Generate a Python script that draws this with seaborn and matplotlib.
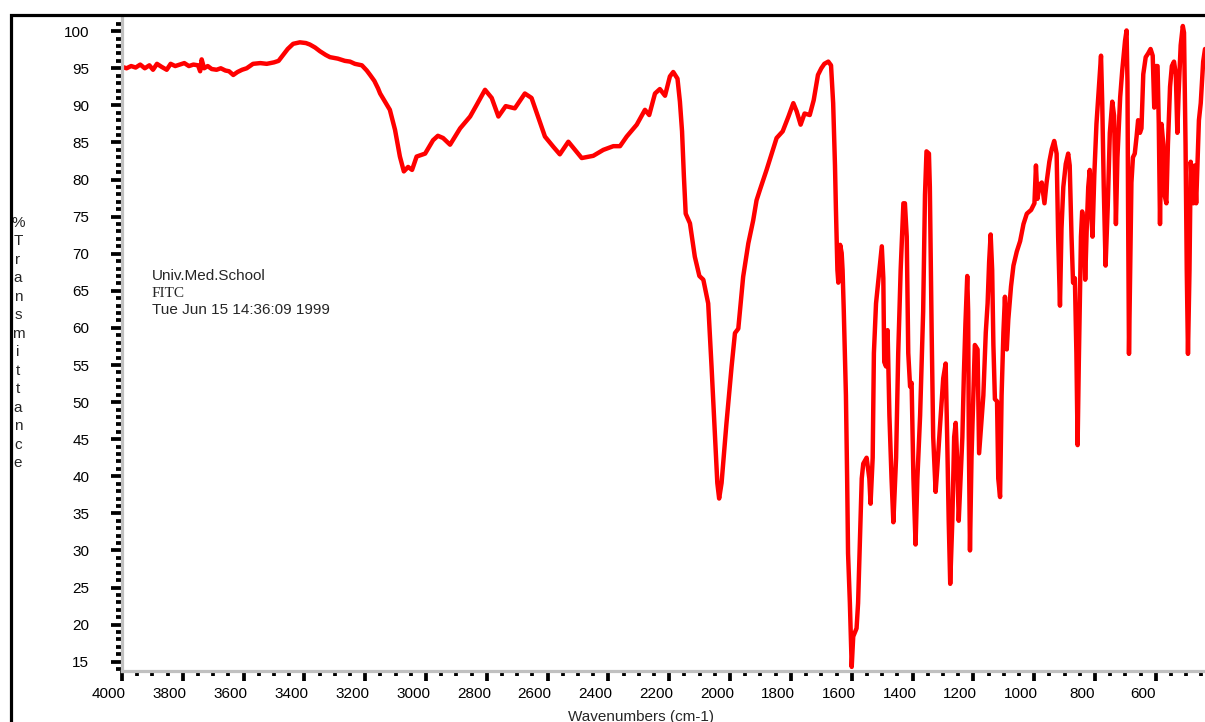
import matplotlib
matplotlib.use("Agg")
import matplotlib.pyplot as plt
from matplotlib.patches import Rectangle
from matplotlib.ticker import MultipleLocator, FormatStrFormatter
from matplotlib.transforms import ScaledTranslation
import seaborn as sns
import pandas as pd

# FT-IR spectrum of FITC: wavenumber (cm-1) and percent transmittance
wavenumber = [
    4000, 3985, 3970, 3955, 3940, 3925, 3910, 3898, 3885, 3870, 3853, 3840,
    3825, 3810, 3795, 3780, 3765, 3750, 3743, 3738, 3730, 3718, 3705, 3689,
    3675, 3660, 3648, 3634, 3620, 3605, 3590, 3569, 3545, 3524, 3500, 3485,
    3470, 3455, 3437, 3415, 3395, 3382, 3365, 3349, 3330, 3316, 3290, 3267,
    3250, 3234, 3211, 3195, 3184, 3170, 3158, 3151, 3119, 3102, 3086, 3073,
    3059, 3046, 3031, 3003, 2977, 2961, 2944, 2921, 2888, 2855, 2833, 2806,
    2784, 2762, 2738, 2708, 2675, 2653, 2632, 2609, 2581, 2560, 2532, 2510,
    2488, 2450, 2417, 2384, 2362, 2340, 2307, 2280, 2266, 2247, 2231, 2214,
    2198, 2187, 2173, 2165, 2158, 2152, 2146, 2132, 2116, 2101, 2088, 2072,
    2061, 2050, 2042, 2036, 2028, 2012, 1995, 1984, 1973, 1957, 1940, 1924,
    1913, 1902, 1880, 1863, 1847, 1827, 1808, 1792, 1781, 1768, 1755, 1738,
    1725, 1711, 1700, 1690, 1677, 1668, 1661, 1655, 1652, 1647, 1644, 1638,
    1633, 1630, 1626, 1619, 1615, 1612, 1606, 1600, 1595, 1584, 1579, 1573,
    1567, 1562, 1551, 1542, 1538, 1531, 1527, 1520, 1513, 1501, 1496, 1493,
    1487, 1482, 1476, 1469, 1463, 1454, 1447, 1439, 1430, 1425, 1419, 1414,
    1408, 1403, 1397, 1390, 1384, 1375, 1365, 1359, 1354, 1346, 1343, 1337,
    1332, 1324, 1319, 1310, 1299, 1291, 1286, 1281, 1276, 1269, 1263, 1258,
    1253, 1248, 1242, 1236, 1231, 1226, 1220, 1217, 1215, 1211, 1206, 1200,
    1195, 1186, 1181, 1175, 1167, 1159, 1153, 1148, 1143, 1138, 1134, 1129,
    1122, 1118, 1112, 1107, 1101, 1096, 1090, 1085, 1076, 1068, 1057, 1046,
    1035, 1024, 1010, 999, 994, 989, 982, 975, 966, 959, 950, 942, 934, 926,
    921, 915, 910, 904, 896, 888, 883, 877, 872, 866, 861, 857, 853, 846,
    842, 836, 832, 827, 822, 817, 811, 808, 802, 795, 787, 780, 776, 771,
    765, 758, 751, 743, 737, 731, 726, 717, 710, 701, 696, 693, 691, 688,
    684, 680, 675, 669, 663, 658, 652, 647, 641, 633, 625, 617, 610, 605,
    600, 594, 590, 586, 581, 575, 571, 565, 560, 553, 547, 540, 534, 529,
    525, 518, 511, 507, 502, 498, 494, 489, 485, 481, 476, 472, 467, 463,
    458, 452, 444, 438,
]
transmittance = [
    95.2, 95.0, 95.3, 95.1, 95.5, 95.0, 95.4, 94.8, 95.6, 95.2, 94.8, 95.6,
    95.3, 95.5, 95.7, 95.3, 95.5, 95.4, 94.6, 96.2, 95.0, 95.3, 94.9, 94.8,
    95.0, 94.7, 94.6, 94.1, 94.5, 94.8, 95.0, 95.6, 95.7, 95.6, 95.8, 96.0,
    96.8, 97.6, 98.3, 98.5, 98.4, 98.2, 97.8, 97.3, 96.8, 96.5, 96.3, 96.0,
    95.9, 95.6, 95.4, 94.7, 94.1, 93.3, 92.3, 91.6, 89.4, 86.7, 83.1, 81.1,
    81.7, 81.3, 83.1, 83.5, 85.3, 85.9, 85.6, 84.7, 86.9, 88.5, 90.1, 92.1,
    91.0, 88.5, 89.9, 89.6, 91.6, 91.0, 88.5, 85.8, 84.4, 83.4, 85.1, 84.0,
    82.9, 83.2, 84.0, 84.5, 84.5, 85.8, 87.4, 89.4, 88.7, 91.6, 92.2, 91.3,
    93.9, 94.5, 93.6, 90.5, 86.5, 80.5, 75.4, 74.1, 69.6, 67.0, 66.5, 63.3,
    54.8, 45.8, 39.1, 37.0, 39.1, 47.1, 54.8, 59.3, 59.9, 66.9, 71.4, 74.5,
    77.2, 78.6, 81.3, 83.5, 85.6, 86.5, 88.5, 90.3, 89.2, 87.4, 88.9, 88.7,
    90.7, 94.1, 95.0, 95.6, 95.9, 95.4, 90.3, 81.9, 76.2, 67.8, 66.1, 71.2,
    70.1, 67.8, 62.2, 50.9, 39.7, 29.6, 22.9, 14.3, 18.4, 19.5, 22.9, 31.3,
    39.7, 41.7, 42.5, 39.7, 36.3, 42.5, 56.6, 63.3, 66.1, 71.0, 66.7, 55.4,
    54.8, 59.7, 48.2, 39.7, 33.8, 42.5, 56.6, 67.8, 76.8, 76.8, 72.3, 56.6,
    52.1, 52.6, 39.7, 30.8, 39.7, 48.2, 62.2, 77.9, 83.8, 83.5, 79.0, 59.4,
    45.3, 37.9, 40.8, 46.5, 53.2, 55.2, 45.3, 34.1, 25.5, 34.1, 45.3, 47.2,
    42.0, 34.0, 39.7, 45.3, 53.8, 60.5, 67.0, 62.2, 45.9, 30.0, 42.5, 50.9,
    57.7, 57.1, 43.1, 46.5, 50.9, 59.4, 63.3, 68.9, 72.6, 67.8, 57.7, 50.4,
    50.1, 39.7, 37.2, 50.9, 59.4, 64.2, 57.1, 61.1, 65.6, 68.4, 70.3, 71.7,
    74.0, 75.4, 75.9, 76.8, 81.9, 77.4, 79.3, 79.6, 76.8, 79.6, 82.4, 84.1,
    85.2, 83.5, 72.3, 63.0, 73.4, 79.0, 82.1, 83.5, 81.9, 72.3, 66.1, 66.7,
    56.6, 44.2, 55.4, 72.3, 75.7, 73.4, 66.5, 73.4, 79.0, 81.3, 74.5, 72.3,
    80.7, 87.5, 92.5, 96.7, 90.3, 79.0, 68.4, 76.2, 86.3, 90.5, 88.6, 74.0,
    83.0, 91.1, 94.8, 98.7, 100.1, 93.1, 76.2, 56.5, 67.8, 79.6, 83.0, 83.5,
    85.8, 88.0, 86.3, 86.9, 94.2, 96.5, 97.0, 97.6, 96.7, 89.7, 95.3, 95.3,
    87.5, 74.0, 87.5, 84.7, 77.9, 76.8, 84.7, 92.5, 95.3, 95.9, 94.2, 86.3,
    91.4, 98.1, 100.7, 99.8, 84.7, 67.8, 56.5, 67.8, 82.4, 79.0, 76.8, 81.9,
    76.8, 81.9, 88.0, 90.3, 95.9, 97.6,
]

x_ticks = [4000, 3800, 3600, 3400, 3200, 3000, 2800, 2600, 2400, 2200, 2000,
           1800, 1600, 1400, 1200, 1000, 800, 600]
y_ticks = [15, 20, 25, 30, 35, 40, 45, 50, 55, 60, 65, 70, 75, 80, 85, 90, 95, 100]

header_lines = ["Univ.Med.School", "FITC", "Tue Jun 15 14:36:09 1999"]
y_label = "%Transmittance"
x_label = "Wavenumbers (cm-1)"

spectrum = pd.DataFrame({"wavenumber": wavenumber, "transmittance": transmittance})

sns.set_style("white")
plt.rcParams["font.family"] = ["Liberation Sans", "DejaVu Sans"]

W, H = 1205, 722
fig = plt.figure(figsize=(W / 100, H / 100), dpi=100)

x_lo, x_hi = 4000, 438
y_lo, y_hi = 13.75, 101.9
ax_left, ax_bottom, ax_top = 122, 51, 704.9
ax = fig.add_axes([ax_left / W, ax_bottom / H, (W - ax_left) / W, (ax_top - ax_bottom) / H])

sns.lineplot(data=spectrum, x="wavenumber", y="transmittance", sort=False,
             estimator=None, color="#ff0000", linewidth=3.2, ax=ax)

ax.set_xlim(x_lo, x_hi)
ax.set_ylim(y_lo, y_hi)
ax.set_xlabel("")
ax.set_ylabel("")
ax.set_xticks(x_ticks)
ax.set_yticks(y_ticks)
ax.xaxis.set_minor_locator(MultipleLocator(50))
ax.yaxis.set_minor_locator(MultipleLocator(1))
ax.xaxis.set_major_formatter(FormatStrFormatter("%d"))
ax.yaxis.set_major_formatter(FormatStrFormatter("%d"))

for side in ("top", "right"):
    ax.spines[side].set_visible(False)
for side in ("left", "bottom"):
    ax.spines[side].set_color("#c0c0c0")
    ax.spines[side].set_linewidth(2.3)

ax.tick_params(axis="both", which="both", direction="out", color="black",
               labelcolor="black", labelsize=11, bottom=True, left=True,
               top=False, right=False)
ax.tick_params(axis="y", which="major", length=8, width=2.7, pad=15.5)
ax.tick_params(axis="y", which="minor", length=4, width=2.7)
ax.tick_params(axis="x", which="major", length=7.2, width=2.7, pad=4)
ax.tick_params(axis="x", which="minor", length=3.8, width=2.7)

shift = ScaledTranslation(-0.13, 0, fig.dpi_scale_trans)
for lbl in ax.get_xticklabels():
    lbl.set_transform(lbl.get_transform() + shift)

# Outer frame around the plot page
frame = Rectangle((11 / W, -0.1), 1.2, (1 - 14.5 / H) + 0.1,
                  transform=fig.transFigure, fill=False, edgecolor="black",
                  linewidth=2.3, clip_on=False, zorder=5)
fig.add_artist(frame)

# Vertical stacked axis title
fig.text(18 / W, 1 - 343 / H, "\n".join(y_label), ha="center", va="center",
         multialignment="center", linespacing=1.41, fontsize=11)

fig.text(640.5 / W, 1 - 710 / H, x_label, ha="center", va="top", fontsize=11)

# Sample header block
fig.text(152 / W, 1 - 280 / H, header_lines[0], ha="left", va="baseline", fontsize=11)
fig.text(152 / W, 1 - 297.3 / H, header_lines[1], ha="left", va="baseline", fontsize=11,
         family=["Liberation Serif", "DejaVu Serif"])
fig.text(152 / W, 1 - 314 / H, header_lines[2], ha="left", va="baseline", fontsize=11)

fig.savefig("out.png", dpi=100, facecolor="white")
